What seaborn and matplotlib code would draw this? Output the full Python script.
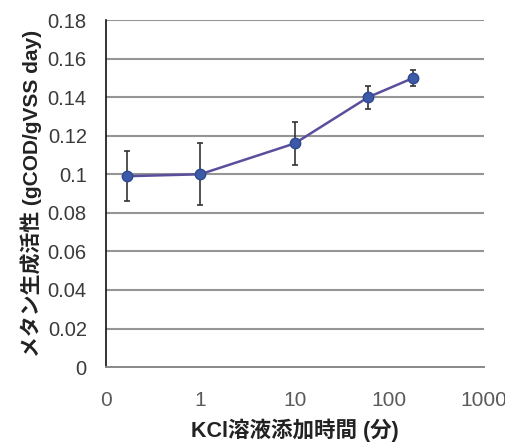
import numpy as np
import pandas as pd
import matplotlib
matplotlib.use("Agg")
import matplotlib.pyplot as plt
import seaborn as sns
from matplotlib.ticker import FixedLocator, FixedFormatter, NullLocator

# KCl addition time (min) and methanogenic activity
times = [0.167, 1, 10, 60, 180]
activity = [0.099, 0.100, 0.116, 0.140, 0.150]
errors = [0.013, 0.016, 0.011, 0.006, 0.004]

x_ticks = [0.1, 1, 10, 100, 1000]
x_tick_labels = ["0", "1", "10", "100", "1000"]
y_ticks = [0, 0.02, 0.04, 0.06, 0.08, 0.1, 0.12, 0.14, 0.16, 0.18]
y_tick_labels = ["0", "0.02", "0.04", "0.06", "0.08", "0.1", "0.12", "0.14", "0.16", "0.18"]

df = pd.DataFrame({"time": times, "activity": activity, "err": errors})

sns.set_style("white")
plt.rcParams["font.family"] = ["Liberation Sans", "Noto Sans CJK JP", "DejaVu Sans"]

fig = plt.figure(figsize=(5.05, 4.46), dpi=100)
ax = fig.add_axes([0.209, 0.177, 0.749, 0.778])

ax.set_xscale("log")
ax.set_xlim(0.1, 1000)
ax.set_ylim(0, 0.18)

# horizontal grid
for yv in y_ticks[1:]:
    ax.axhline(yv, color="#959595", lw=1.5, zorder=1)

ax.errorbar(df["time"], df["activity"], yerr=df["err"], fmt="none",
            ecolor="#333333", elinewidth=1.2, capsize=2.5, capthick=1.2, zorder=2)
sns.lineplot(data=df, x="time", y="activity", ax=ax, color="#5a4f9c", lw=1.8,
             marker="o", markersize=7.5, markerfacecolor="#3d5aa8",
             markeredgecolor="#2f4a8e", markeredgewidth=1.0, zorder=3)

ax.xaxis.set_major_locator(FixedLocator(x_ticks))
ax.xaxis.set_major_formatter(FixedFormatter(x_tick_labels))
ax.xaxis.set_minor_locator(NullLocator())
ax.yaxis.set_major_locator(FixedLocator(y_ticks))
ax.yaxis.set_major_formatter(FixedFormatter(y_tick_labels))

for side in ["top", "right"]:
    ax.spines[side].set_visible(False)
ax.spines["left"].set_color("#111111")
ax.spines["left"].set_linewidth(1.2)
ax.spines["bottom"].set_color("#888888")
ax.spines["bottom"].set_linewidth(1.4)

ax.tick_params(axis="both", which="major", direction="out", length=6.5, width=1.1,
               colors="#222222")
ax.tick_params(axis="y", pad=7, labelsize=14.5, labelcolor="#3a3a3a")
ax.tick_params(axis="x", pad=11, labelsize=15, labelcolor="#5a5a5a")

ax.set_xlabel("KCl溶液添加時間 (分)", fontsize=15.5, fontweight="bold", labelpad=6,
              color="#222222")
ax.set_ylabel("メタン生成活性 (gCOD/gVSS day)", fontsize=15, fontweight="bold",
              labelpad=4, color="#222222")

fig.savefig("out.png", dpi=100)
